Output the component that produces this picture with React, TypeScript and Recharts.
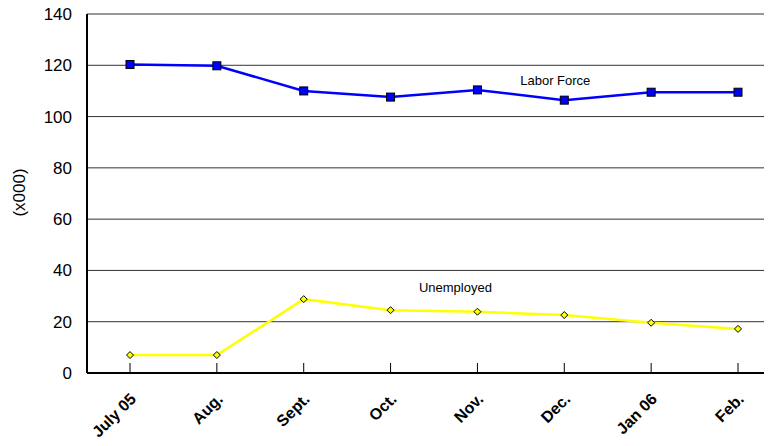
import { LineChart, Line, XAxis, YAxis, CartesianGrid, ReferenceDot, Label } from "recharts";

const months = ["July 05", "Aug.", "Sept.", "Oct.", "Nov.", "Dec.", "Jan 06", "Feb."];
const laborForce = [120.3, 119.8, 110.0, 107.6, 110.4, 106.4, 109.5, 109.5];
const unemployed = [7.0, 7.0, 28.8, 24.5, 23.9, 22.6, 19.6, 17.2];
const yTicks = [0, 20, 40, 60, 80, 100, 120, 140];

const data = months.map((m, i) => ({
  month: m,
  labor: laborForce[i],
  unemp: unemployed[i],
}));

const FONT = "'Liberation Sans', Arial, sans-serif";

function SquareDot({ cx, cy }: any) {
  if (cx == null || cy == null) return null;
  return <rect x={cx - 4} y={cy - 4} width={8} height={8} fill="#0000ff" stroke="#000" strokeWidth={1} />;
}

function DiamondDot({ cx, cy }: any) {
  if (cx == null || cy == null) return null;
  const r = 3.5;
  return (
    <polygon
      points={`${cx},${cy - r} ${cx + r},${cy} ${cx},${cy + r} ${cx - r},${cy}`}
      fill="#ffff00"
      stroke="#000"
      strokeWidth={1}
    />
  );
}

// y arrives at the inner end of the (upward) tick line, 10px above the axis
function MonthTick({ x, y, payload }: any) {
  const tx = x + 7;
  const ty = y + 37;
  return (
    <text
      x={tx}
      y={ty}
      textAnchor="end"
      transform={`rotate(-45 ${tx} ${ty})`}
      fontFamily={FONT}
      fontWeight="bold"
      fontSize={16}
      fill="#000"
    >
      {payload.value}
    </text>
  );
}

function AxisTitle({ viewBox }: any) {
  const cx = viewBox.x + 19;
  const cy = viewBox.y + viewBox.height / 2 - 1;
  return (
    <text
      x={cx}
      y={cy}
      textAnchor="middle"
      dominantBaseline="central"
      transform={`rotate(-90 ${cx} ${cy})`}
      fontFamily={FONT}
      fontSize={17}
      fill="#000"
    >
      (x000)
    </text>
  );
}

export default function App() {
  return (
    <div style={{ margin: -8, width: 772, height: 446, overflow: "hidden", background: "#fff" }}>
      <LineChart
        width={781}
        height={446}
        data={data}
        margin={{ top: 14, right: 0, left: 0, bottom: 0 }}
      >
        <CartesianGrid vertical={false} stroke="#333" strokeWidth={1} />
        <XAxis
          dataKey="month"
          height={73}
          padding={{ left: 43, right: 43 }}
          axisLine={{ stroke: "#000", strokeWidth: 2 }}
          tickLine={{ stroke: "#000", strokeWidth: 1 }}
          tickSize={-10}
          tickMargin={0}
          interval={0}
          tick={<MonthTick />}
        />
        <YAxis
          width={87}
          domain={[0, 140]}
          ticks={yTicks}
          axisLine={{ stroke: "#000", strokeWidth: 2 }}
          tickLine={false}
          tickSize={0}
          tickMargin={15}
          tick={{ fontFamily: FONT, fontSize: 17, fill: "#000" }}
        >
          <Label content={<AxisTitle />} />
        </YAxis>
        <Line
          dataKey="labor"
          stroke="#0000ff"
          strokeWidth={2.5}
          dot={<SquareDot />}
          activeDot={false}
          isAnimationActive={false}
        />
        <Line
          dataKey="unemp"
          stroke="#ffff00"
          strokeWidth={2.5}
          dot={<DiamondDot />}
          activeDot={false}
          isAnimationActive={false}
        />
        <ReferenceDot x="Dec." y={114.2} r={0} stroke="none" ifOverflow="visible">
          <Label value="Labor Force" position="center" dx={-9} fontFamily={FONT} fontSize={13} fill="#000" />
        </ReferenceDot>
        <ReferenceDot x="Nov." y={33.5} r={0} stroke="none" ifOverflow="visible">
          <Label value="Unemployed" position="center" dx={-22} fontFamily={FONT} fontSize={13} fill="#000" />
        </ReferenceDot>
      </LineChart>
    </div>
  );
}
